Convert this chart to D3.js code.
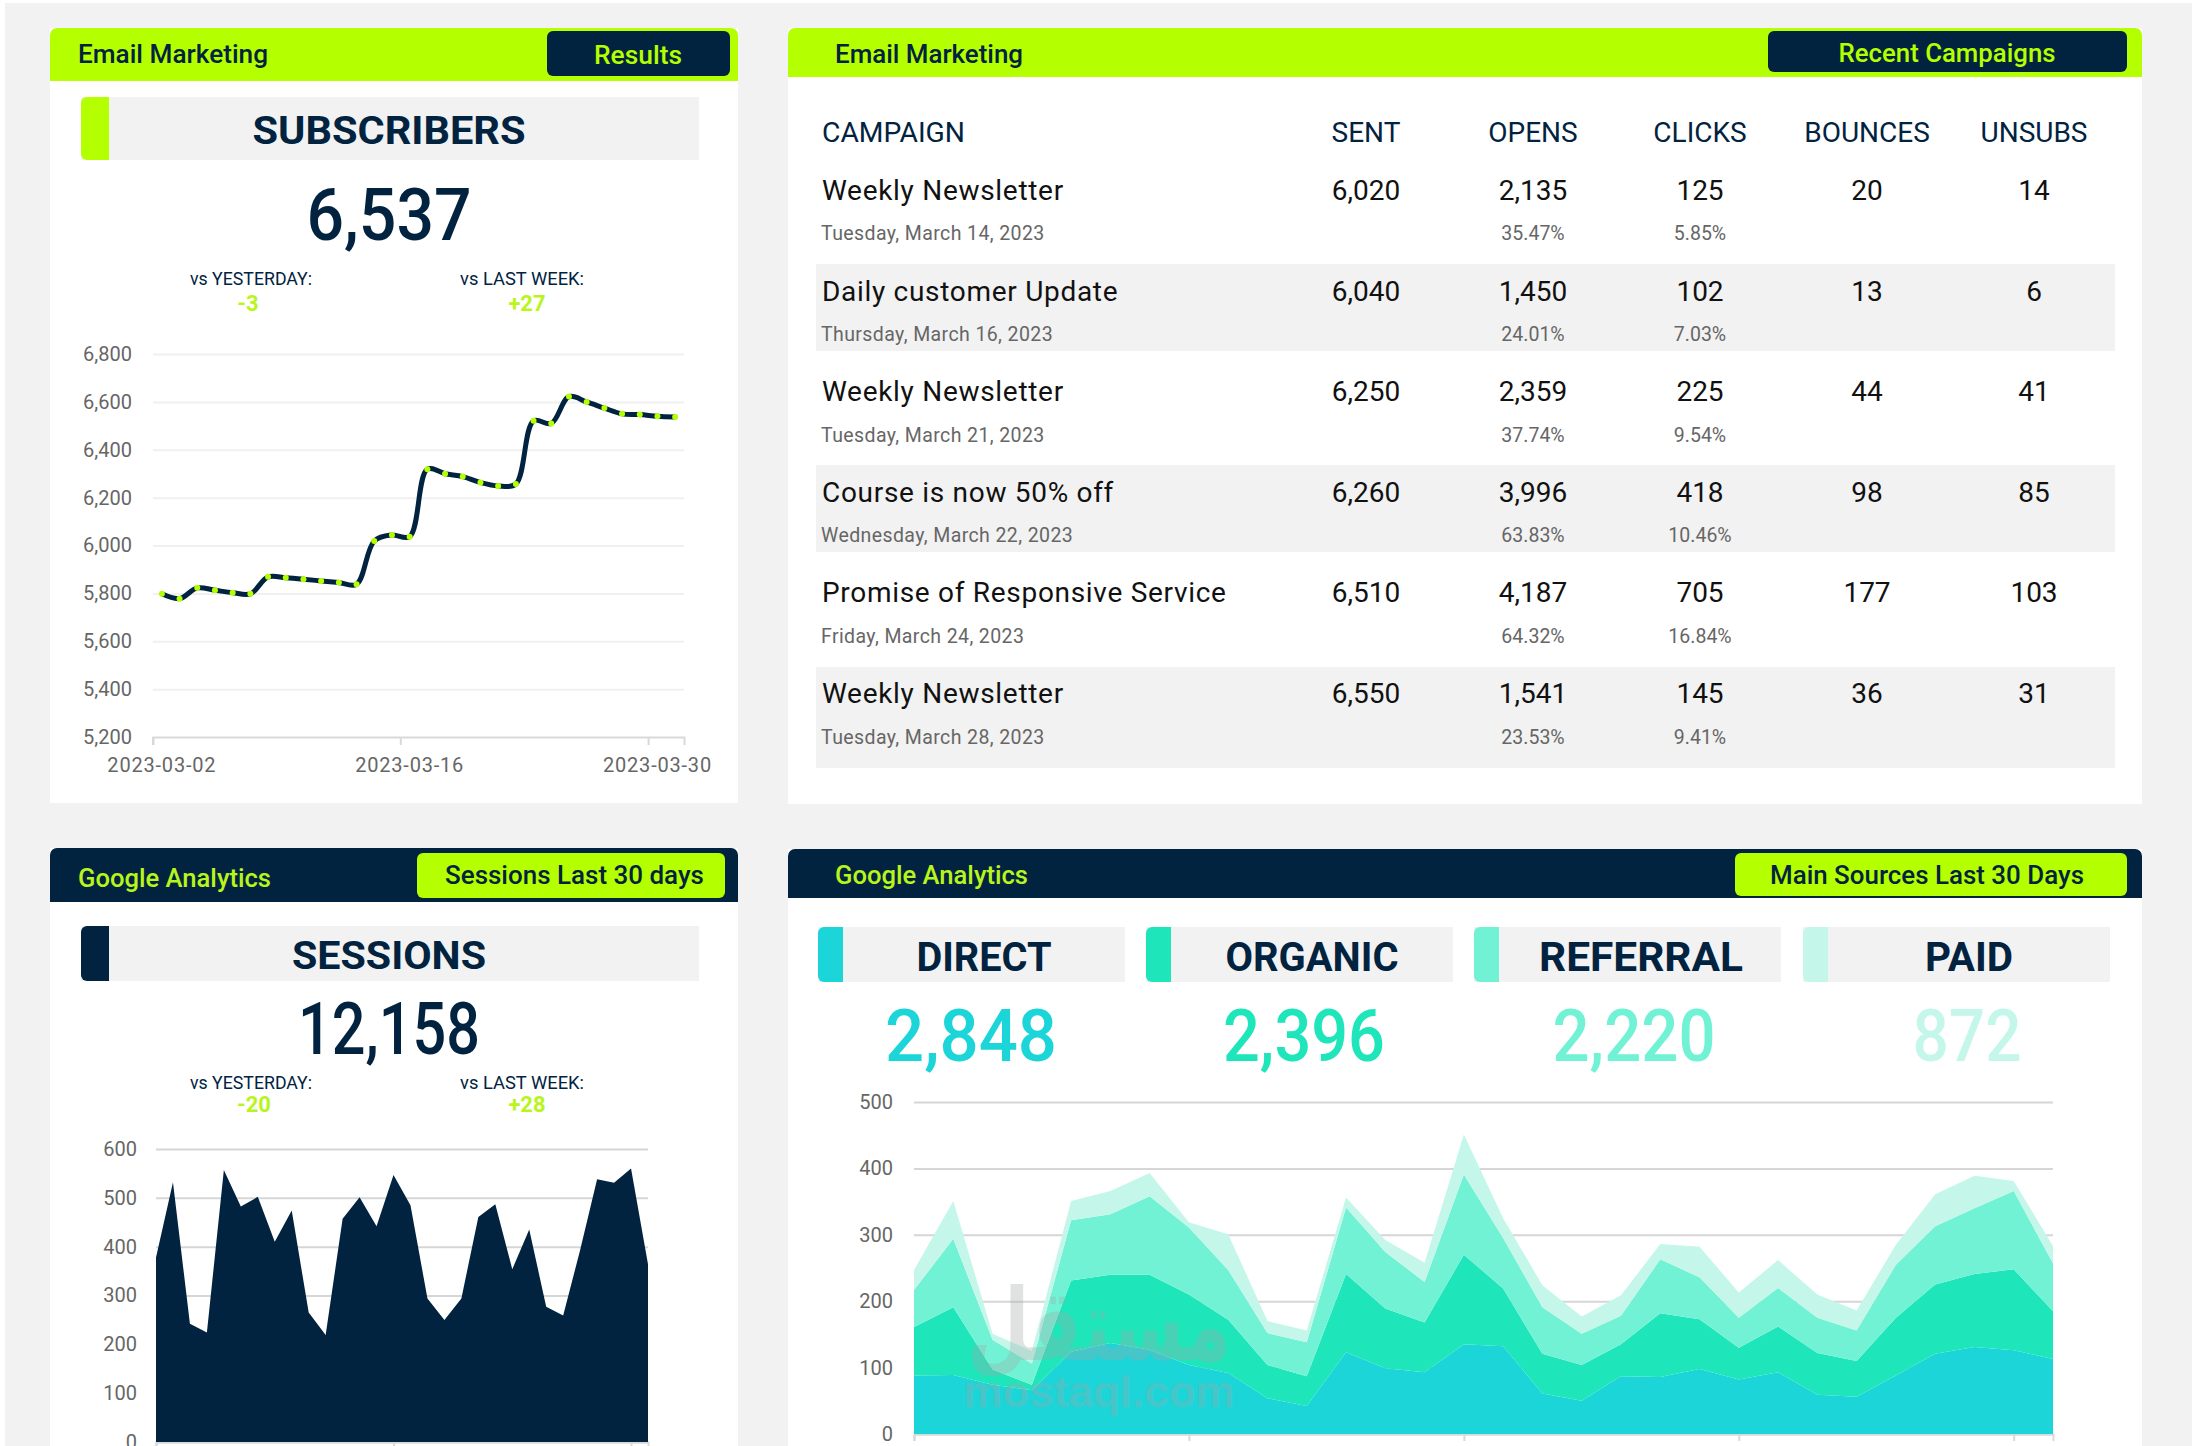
<!DOCTYPE html>
<html>
<head>
<meta charset="utf-8">
<script src="https://cdn.jsdelivr.net/npm/d3@7"></script>
<style>
  html, body { margin: 0; padding: 0; background: #fff; }
  svg { display: block; }
  text { font-family: Roboto, "Noto Sans", sans-serif; }
  .grid-axis .domain { display: none; }
</style>
</head>
<body>
<div id="dash"></div>
<script>
const dark = "#02233f", lime = "#b4ff00", limeText = "#b8f51c", grey = "#f2f2f2", tickGrey = "#666";

// subscribers
const days = ["2023-03-02","2023-03-03","2023-03-04","2023-03-05","2023-03-06","2023-03-07","2023-03-08","2023-03-09","2023-03-10","2023-03-11","2023-03-12","2023-03-13","2023-03-14","2023-03-15","2023-03-16","2023-03-17","2023-03-18","2023-03-19","2023-03-20","2023-03-21","2023-03-22","2023-03-23","2023-03-24","2023-03-25","2023-03-26","2023-03-27","2023-03-28","2023-03-29","2023-03-30","2023-03-31"];
const subscribers = [5798,5778,5823,5813,5803,5798,5869,5865,5859,5852,5845,5838,6019,6044,6037,6319,6300,6288,6263,6249,6257,6521,6510,6622,6600,6574,6550,6547,6540,6537];
const subTicks = [5200,5400,5600,5800,6000,6200,6400,6600,6800];
const dayTicks = ["2023-03-02","2023-03-16","2023-03-30"];

// sessions
const sessions = [378,532,242,224,557,482,502,410,474,265,219,457,501,442,547,485,294,250,294,461,487,354,435,277,259,393,538,531,560,364];
const sessionTicks = [0,100,200,300,400,500,600];

// main sources
const direct = [88,89,74,66,124,137,127,104,92,54,42,123,99,93,135,132,61,50,87,86,98,82,93,59,56,88,121,131,126,113];
const organic = [73,102,23,8,107,103,113,106,80,50,45,118,90,75,135,87,60,54,48,96,75,48,69,63,54,87,104,110,122,72];
const referral = [56,103,45,32,91,91,118,101,75,48,51,100,85,61,121,76,70,47,43,81,63,45,58,53,46,80,88,99,118,72];
const paid = [30,57,9,19,29,35,35,8,54,18,18,15,18,29,60,30,33,26,31,23,46,38,42,35,30,30,48,49,15,26];
const sourceNames = ["DIRECT","ORGANIC","REFERRAL","PAID"];
const sourceTotals = ["2,848","2,396","2,220","872"];
const sourceColors = ["#1bd5d8","#1fe5bb","#72f2d4","#c4f7ea"];
const sourceTicks = [0,100,200,300,400,500];

// campaigns table
const tableHeads = ["SENT","OPENS","CLICKS","BOUNCES","UNSUBS"];
const campaigns = ["Weekly Newsletter","Daily customer Update","Weekly Newsletter","Course is now 50% off","Promise of Responsive Service","Weekly Newsletter"];
const campaignDates = ["Tuesday, March 14, 2023","Thursday, March 16, 2023","Tuesday, March 21, 2023","Wednesday, March 22, 2023","Friday, March 24, 2023","Tuesday, March 28, 2023"];
const sent = ["6,020","6,040","6,250","6,260","6,510","6,550"];
const opens = ["2,135","1,450","2,359","3,996","4,187","1,541"];
const openRates = ["35.47%","24.01%","37.74%","63.83%","64.32%","23.53%"];
const clicks = ["125","102","225","418","705","145"];
const clickRates = ["5.85%","7.03%","9.54%","10.46%","16.84%","9.41%"];
const bounces = ["20","13","44","98","177","36"];
const unsubs = ["14","6","41","85","103","31"];

const svg = d3.select("#dash").append("svg").attr("width", 2200).attr("height", 1446);
svg.append("rect").attr("x", 5).attr("y", 3).attr("width", 2187).attr("height", 1443).attr("fill", grey);

function txt(x, y, s, size, fill, o) {
  o = o || {};
  const t = svg.append("text").attr("x", x).attr("y", y).text(s)
    .attr("font-size", size).attr("fill", fill)
    .attr("font-weight", o.weight || 400)
    .attr("text-anchor", o.anchor || "start");
  if (o.w) t.attr("textLength", o.w).attr("lengthAdjust", "spacingAndGlyphs");
  if (o.spacing) t.attr("letter-spacing", o.spacing);
  return t;
}

function card(x0, x1, y0, y1, headBottom, color) {
  svg.append("rect").attr("x", x0).attr("y", y0).attr("width", x1 - x0).attr("height", y1 - y0).attr("fill", "#fff");
  svg.append("rect").attr("x", x0).attr("y", y0).attr("width", x1 - x0).attr("height", 20).attr("rx", 7).attr("fill", color);
  svg.append("rect").attr("x", x0).attr("y", y0 + 8).attr("width", x1 - x0).attr("height", headBottom - y0 - 8).attr("fill", color);
}

function pill(x0, x1, y0, y1, color) {
  svg.append("rect").attr("x", x0).attr("y", y0).attr("width", x1 - x0).attr("height", y1 - y0).attr("rx", 6).attr("fill", color);
}

function titleBox(x0, x1, y0, y1, accent) {
  svg.append("rect").attr("x", x0).attr("y", y0).attr("width", x1 - x0).attr("height", y1 - y0).attr("fill", grey);
  svg.append("rect").attr("x", x0).attr("y", y0).attr("width", accent.w).attr("height", y1 - y0).attr("rx", 6).attr("fill", accent.color);
  svg.append("rect").attr("x", x0 + accent.w - 8).attr("y", y0).attr("width", 8).attr("height", y1 - y0).attr("fill", accent.color);
}

function yGrid(scale, x0, x1, ticks, pad, lineColor, lineW, size) {
  const g = svg.append("g").attr("class", "grid-axis").attr("transform", `translate(${x0},0)`)
    .call(d3.axisLeft(scale).tickValues(ticks).tickFormat(d3.format(",")).tickSize(-(x1 - x0)).tickPadding(pad));
  g.selectAll(".tick line").attr("stroke", lineColor).attr("stroke-width", lineW);
  g.selectAll(".tick text").attr("fill", tickGrey).attr("font-size", size);
}

// ---- top left: subscribers
card(50, 738, 28, 803, 81, lime);
pill(547, 730, 31, 76, dark);
txt(78, 63, "Email Marketing", 25, dark, {weight: 500, w: 190});
txt(638, 64, "Results", 25, lime, {weight: 500, anchor: "middle", w: 88});
titleBox(81, 699, 97, 160, {w: 28, color: lime});
txt(389, 144, "SUBSCRIBERS", 39, dark, {weight: 700, anchor: "middle", w: 273});
txt(389, 240, "6,537", 72, dark, {weight: 500, anchor: "middle", w: 165});
txt(190, 285, "vs YESTERDAY:", 18, dark, {w: 122});
txt(460, 285, "vs LAST WEEK:", 18, dark, {w: 124});
txt(248, 311, "-3", 22, limeText, {weight: 700, anchor: "middle"});
txt(527, 311, "+27", 22, limeText, {weight: 700, anchor: "middle"});

const subX = d3.scaleBand().domain(days).range([153, 684]);
const subY = d3.scaleLinear().domain([5200, 6800]).range([737, 354]);
yGrid(subY, 153, 684, subTicks, 21, "#f0f0f0", 2, 20);
svg.select(".grid-axis").selectAll(".tick").filter(d => d === 5200).select("line").remove();
const subAxis = svg.append("g").attr("transform", "translate(0,737)")
  .call(d3.axisBottom(subX).tickValues(dayTicks).tickSize(8).tickPadding(13));
subAxis.select(".domain").attr("stroke", "#d9d9d9").attr("stroke-width", 2);
subAxis.selectAll(".tick line").attr("stroke", "#d9d9d9").attr("stroke-width", 2).attr("x1", -subX.bandwidth() / 2).attr("x2", -subX.bandwidth() / 2);
subAxis.selectAll(".tick text").attr("fill", tickGrey).attr("font-size", 20).attr("letter-spacing", 0.8);

const subLine = d3.line().x((d, i) => subX(days[i]) + subX.bandwidth() / 2).y(d => subY(d)).curve(d3.curveCatmullRom);
svg.append("path").attr("d", subLine(subscribers)).attr("fill", "none").attr("stroke", dark).attr("stroke-width", 5);
svg.append("g").selectAll("circle").data(subscribers).join("circle")
  .attr("cx", (d, i) => subX(days[i]) + subX.bandwidth() / 2).attr("cy", d => subY(d)).attr("r", 3).attr("fill", lime);

// ---- top right: campaigns
card(788, 2142, 28, 804, 77, lime);
pill(1768, 2127, 31, 72, dark);
txt(835, 63, "Email Marketing", 25, dark, {weight: 500, w: 188});
txt(1947, 62, "Recent Campaigns", 25, lime, {weight: 500, anchor: "middle", w: 217});

const colX = d3.scalePoint().domain(tableHeads).range([1366, 2034]);
const rowY = d3.scalePoint().domain(d3.range(campaigns.length)).range([200, 703]);
const dateY = d3.scalePoint().domain(d3.range(campaigns.length)).range([240, 744]);
const stripeEnds = [[264, 351], [465, 552], [667, 768]];
stripeEnds.forEach(e => svg.append("rect").attr("x", 816).attr("y", e[0]).attr("width", 1299).attr("height", e[1] - e[0]).attr("fill", grey));

txt(822, 142, "CAMPAIGN", 28, dark, {w: 143});
tableHeads.forEach(h => txt(colX(h), 142, h, 28, dark, {anchor: "middle"}));
const rowCols = {SENT: sent, OPENS: opens, CLICKS: clicks, BOUNCES: bounces, UNSUBS: unsubs};
campaigns.forEach((c, i) => {
  txt(822, rowY(i), c, 28, "#111", {spacing: 0.7});
  txt(821, dateY(i), campaignDates[i], 19.5, tickGrey, {spacing: 0.4});
  tableHeads.forEach(h => txt(colX(h), rowY(i), rowCols[h][i], 28, "#111", {anchor: "middle"}));
  txt(colX("OPENS"), dateY(i), openRates[i], 19.5, tickGrey, {anchor: "middle"});
  txt(colX("CLICKS"), dateY(i), clickRates[i], 19.5, tickGrey, {anchor: "middle"});
});

// ---- bottom left: sessions
card(50, 738, 848, 1446, 902, dark);
pill(417, 725, 853, 898, lime);
txt(78, 887, "Google Analytics", 25, limeText, {weight: 500, w: 193});
txt(445, 884, "Sessions Last 30 days", 25, dark, {weight: 500, w: 259});
titleBox(81, 699, 926, 981, {w: 28, color: dark});
txt(389, 969, "SESSIONS", 39, dark, {weight: 700, anchor: "middle", w: 194});
txt(389, 1054, "12,158", 72, dark, {weight: 500, anchor: "middle", w: 182});
txt(190, 1089, "vs YESTERDAY:", 18, dark, {w: 122});
txt(460, 1089, "vs LAST WEEK:", 18, dark, {w: 124});
txt(254, 1112, "-20", 22, limeText, {weight: 700, anchor: "middle"});
txt(527, 1112, "+28", 22, limeText, {weight: 700, anchor: "middle"});

const sessX = d3.scalePoint().domain(days).range([156, 648]);
const sessY = d3.scaleLinear().domain([0, 600]).range([1442, 1149]);
yGrid(sessY, 156, 648, sessionTicks, 19, "#d6d6d6", 2, 20);
const sessAxis = svg.append("g").attr("transform", "translate(0,1442)")
  .call(d3.axisBottom(sessX).tickValues(dayTicks).tickSize(6).tickFormat(""));
sessAxis.selectAll("path,line").attr("stroke", "#d9d9d9").attr("stroke-width", 2);
const sessArea = d3.area().x((d, i) => sessX(days[i])).y0(sessY(0)).y1(d => sessY(d));
svg.append("path").attr("d", sessArea(sessions)).attr("fill", dark);

// ---- bottom right: sources
card(788, 2142, 849, 1446, 898, dark);
pill(1735, 2127, 853, 896, lime);
txt(835, 884, "Google Analytics", 25, limeText, {weight: 500, w: 193});
txt(1770, 884, "Main Sources Last 30 Days", 25, dark, {weight: 500, w: 314});

const boxLeft = [818, 1146, 1474, 1803];
const nameCenter = [984, 1312, 1641, 1969];
const nameWidth = [135, 173, 204, 88];
const totalCenter = [971, 1304, 1634, 1967];
const totalWidth = [172, 162, 163, 109];
sourceNames.forEach((n, i) => {
  titleBox(boxLeft[i], boxLeft[i] + 307, 927, 982, {w: 25, color: sourceColors[i]});
  txt(nameCenter[i], 971, n, 40, dark, {weight: 700, anchor: "middle", w: nameWidth[i]});
  txt(totalCenter[i], 1061, sourceTotals[i], 72, sourceColors[i], {weight: 500, anchor: "middle", w: totalWidth[i]});
});

const srcX = d3.scalePoint().domain(days).range([914, 2053]);
const srcY = d3.scaleLinear().domain([0, 500]).range([1434, 1102]);
yGrid(srcY, 914, 2053, sourceTicks, 21, "#d6d6d6", 2, 20);
const srcAxis = svg.append("g").attr("transform", "translate(0,1434)")
  .call(d3.axisBottom(srcX).tickValues(["2023-03-02","2023-03-09","2023-03-16","2023-03-23","2023-03-30"]).tickSize(7).tickFormat(""));
srcAxis.selectAll("path,line").attr("stroke", "#d9d9d9").attr("stroke-width", 2);

const srcRows = days.map((d, i) => ({day: d, direct: direct[i], organic: organic[i], referral: referral[i], paid: paid[i]}));
const srcStack = d3.stack().keys(["direct", "organic", "referral", "paid"])(srcRows);
const srcArea = d3.area().x(d => srcX(d.data.day)).y0(d => srcY(d[0])).y1(d => srcY(d[1]));
svg.append("g").selectAll("path").data(srcStack).join("path")
  .attr("d", srcArea).attr("fill", (d, i) => sourceColors[i]);

// watermark
svg.append("text").attr("x", 1099).attr("y", 1360).attr("text-anchor", "middle").attr("font-size", 100)
  .attr("font-weight", 700).attr("textLength", 264).attr("lengthAdjust", "spacingAndGlyphs")
  .style("font-family", '"DejaVu Sans"').attr("fill", "#a0a8a8").attr("opacity", 0.32).text("مستقل");
svg.append("text").attr("x", 1099).attr("y", 1407).attr("text-anchor", "middle").attr("font-size", 44)
  .attr("font-weight", 700).style("font-family", '"Liberation Sans"').attr("fill", "#a0a8a8").attr("opacity", 0.32).text("mostaql.com");
</script>
</body>
</html>
